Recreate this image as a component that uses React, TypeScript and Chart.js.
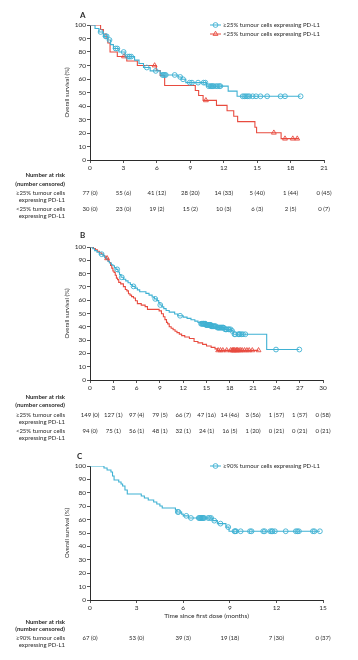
import React, { useEffect, useRef } from "react";
import { Chart, registerables } from "chart.js";
Chart.register(...registerables);

const BLUE = "#3fb1d3";
const RED = "#e84b3f";
const INK = "#2b2b2b";
const FONT = "Lato, 'Open Sans', sans-serif";

// ---------- Panel A ----------
const aTicks = [0, 3, 6, 9, 12, 15, 18, 21];
const aHiTimes = [0, 0.45, 0.8, 1.2, 1.6, 1.85, 2.1, 2.6, 3.15, 4.0, 4.4, 4.8, 5.4, 6.3, 6.45, 7.9, 8.2, 8.6, 10.45, 12.4, 13.2, 18.9];
const aHiSurv = [100, 97.4, 94.8, 91.6, 88.9, 85.5, 82.6, 80.0, 76.6, 74.0, 71.5, 68.5, 66.0, 64.2, 63.0, 61.5, 59.8, 57.3, 54.7, 51.0, 47.2, 47.2];
const aHiCens = [0.95, 1.4, 1.5, 1.75, 2.3, 2.45, 3.02, 3.4, 3.55, 3.7, 5.1, 5.9, 6.5, 6.6, 6.7, 6.8, 7.6, 8.1, 8.35, 8.95, 9.15, 9.7, 10.2, 10.35, 10.65, 10.8, 10.9, 11.0, 11.1, 11.3, 11.45, 11.6, 11.7, 13.7, 13.85, 14.0, 14.15, 14.3, 14.6, 14.9, 15.3, 15.9, 17.1, 17.5, 18.9];
const aLoTimes = [0, 0.95, 1.2, 1.45, 1.6, 1.8, 2.45, 3.3, 4.25, 5.95, 6.3, 6.7, 9.45, 9.75, 10.15, 11.35, 12.3, 12.9, 13.25, 14.8, 14.95, 17.15, 18.75];
const aLoSurv = [100, 96.7, 93.3, 90.0, 86.7, 80.0, 76.7, 73.3, 70.0, 66.3, 62.6, 55.2, 51.5, 47.8, 44.2, 40.5, 36.5, 32.4, 28.4, 24.3, 20.2, 15.8, 15.8];
const aLoCens = [3.05, 5.8, 10.4, 16.5, 17.5, 18.2, 18.6];
const aHiRisk = ["77 (0)", "55 (6)", "41 (12)", "28 (20)", "14 (33)", "5 (40)", "1 (44)", "0 (45)"];
const aLoRisk = ["30 (0)", "23 (0)", "19 (2)", "15 (2)", "10 (3)", "6 (3)", "2 (5)", "0 (7)"];

// ---------- Panel B ----------
const bTicks = [0, 3, 6, 9, 12, 15, 18, 21, 24, 27, 30];
const bHiTimes = [0, 0.35, 0.6, 0.9, 1.2, 1.7, 1.9, 2.1, 2.3, 2.5, 2.75, 2.95, 3.15, 3.35, 3.6, 3.8, 4.0, 4.3, 4.6, 4.9, 5.2, 5.45, 5.8, 6.1, 6.4, 7.2, 7.6, 8.0, 8.3, 8.6, 8.85, 9.0, 9.25, 9.5, 9.8, 10.2, 10.9, 11.3, 12.0, 12.5, 13.0, 13.5, 13.9, 14.25, 14.9, 15.6, 16.3, 17.3, 18.2, 18.45, 22.75, 26.95];
const bHiSurv = [100, 98.7, 97.3, 96.0, 94.6, 93.3, 92.0, 90.6, 89.3, 88.0, 86.6, 85.9, 84.5, 83.2, 81.2, 79.2, 77.2, 75.8, 74.5, 73.1, 71.8, 70.4, 69.1, 67.8, 66.4, 65.1, 63.8, 62.4, 61.0, 59.7, 58.3, 56.4, 55.0, 53.7, 52.3, 51.0, 49.6, 48.3, 47.3, 46.3, 45.3, 44.3, 43.3, 42.3, 41.4, 40.4, 39.4, 38.1, 36.9, 34.4, 22.9, 22.9];
const bHiCens = [1.5, 3.5, 4.1, 5.6, 8.4, 9.05, 11.6, 14.3, 14.4, 14.5, 14.6, 14.65, 14.7, 14.8, 14.85, 14.95, 15.0, 15.05, 15.1, 15.2, 15.3, 15.35, 15.4, 15.5, 15.55, 15.6, 15.7, 15.8, 15.9, 16.0, 16.1, 16.2, 16.4, 16.5, 16.6, 16.7, 16.8, 16.9, 17.0, 17.1, 17.2, 17.4, 17.5, 17.6, 17.8, 17.9, 18.1, 18.3, 18.6, 18.7, 19.1, 19.2, 19.3, 19.5, 19.7, 20.0, 23.95, 26.95];
const bLoTimes = [0, 0.45, 0.7, 0.95, 1.2, 1.45, 1.7, 1.9, 2.05, 2.35, 2.5, 2.65, 2.8, 2.95, 3.1, 3.25, 3.4, 3.55, 3.7, 3.95, 4.3, 4.55, 4.75, 4.95, 5.15, 5.35, 5.6, 5.85, 6.1, 6.6, 7.1, 7.4, 8.9, 9.2, 9.45, 9.65, 9.85, 10.0, 10.2, 10.45, 10.7, 10.95, 11.2, 11.5, 11.8, 12.2, 12.8, 13.4, 13.9, 14.5, 15.0, 15.6, 16.1, 16.4, 21.7];
const bLoSurv = [100, 98.9, 97.9, 96.8, 95.7, 94.7, 93.6, 92.6, 91.5, 89.4, 88.3, 86.2, 84.1, 82.0, 80.9, 78.8, 76.6, 75.5, 73.4, 72.3, 70.2, 68.1, 67.0, 64.9, 63.8, 62.7, 61.7, 59.6, 57.4, 56.3, 55.2, 53.1, 52.0, 49.8, 47.6, 45.4, 43.3, 42.2, 40.0, 38.9, 37.8, 36.7, 35.6, 34.5, 33.4, 32.3, 31.2, 29.0, 27.9, 26.8, 25.6, 24.5, 23.4, 22.3, 22.3];
const bLoCens = [2.2, 16.5, 16.8, 17.1, 17.6, 18.1, 18.3, 18.4, 18.5, 18.6, 18.8, 18.9, 19.0, 19.2, 19.4, 19.6, 19.9, 20.2, 20.5, 20.9, 21.7];
const bHiRisk = ["149 (0)", "127 (1)", "97 (4)", "79 (5)", "66 (7)", "47 (16)", "14 (46)", "3 (56)", "1 (57)", "1 (57)", "0 (58)"];
const bLoRisk = ["94 (0)", "75 (1)", "56 (1)", "48 (1)", "32 (1)", "24 (1)", "16 (5)", "1 (20)", "0 (21)", "0 (21)", "0 (21)"];

// ---------- Panel C ----------
const cTicks = [0, 3, 6, 9, 12, 15];
const cTimes = [0, 0.9, 1.1, 1.35, 1.45, 1.55, 1.85, 2.0, 2.1, 2.25, 2.4, 3.3, 3.5, 3.75, 4.1, 4.3, 4.5, 4.65, 5.5, 5.6, 5.9, 6.0, 6.35, 7.9, 8.2, 8.75, 8.95, 14.8];
const cSurv = [100, 98.5, 97.0, 95.5, 92.5, 89.6, 88.1, 86.6, 85.1, 82.1, 79.1, 77.6, 76.1, 74.6, 73.1, 71.6, 70.1, 68.7, 67.2, 65.7, 64.1, 62.8, 61.2, 59.2, 57.0, 54.4, 51.3, 51.3];
const cCens = [5.65, 5.7, 6.2, 6.5, 7.0, 7.05, 7.1, 7.15, 7.2, 7.25, 7.3, 7.35, 7.6, 7.7, 7.8, 8.0, 8.4, 8.9, 9.3, 9.35, 9.4, 9.7, 10.3, 10.4, 11.15, 11.25, 11.6, 11.7, 11.75, 11.9, 12.6, 13.25, 13.35, 13.45, 14.35, 14.45, 14.8];
const cRisk = ["67 (0)", "53 (0)", "39 (3)", "19 (18)", "7 (30)", "0 (37)"];

const yTicks = [0, 10, 20, 30, 40, 50, 60, 70, 80, 90, 100];

const hiLegend = "≥25% tumour cells expressing PD-L1";
const loLegend = "<25% tumour cells expressing PD-L1";
const c90Legend = "≥90% tumour cells expressing PD-L1";
const hiRowLabel = ["≥25% tumour cells", "expressing PD-L1"];
const loRowLabel = ["<25% tumour cells", "expressing PD-L1"];
const c90RowLabel = ["≥90% tumour cells", "expressing PD-L1"];

type Series = {
  times: number[];
  surv: number[];
  cens: number[];
  color: string;
  marker: "circle" | "triangle";
  legend: string;
  rowLabel: string[];
  risk: string[];
};

type PanelCfg = {
  top: number;
  height: number;
  letter: string;
  letterPos: [number, number];
  ticks: number[];
  padding: { left: number; right: number; top: number; bottom: number };
  xHeight: number;
  xTitle?: string;
  legendY: number[];
  series: Series[];
  headY: [number, number];
  rowY: number[];
};

function survAt(times: number[], surv: number[], t: number) {
  let v = surv[0];
  for (let i = 0; i < times.length; i++) if (times[i] <= t) v = surv[i];
  return v;
}

function drawMarker(ctx: CanvasRenderingContext2D, kind: string, x: number, y: number, color: string) {
  ctx.save();
  ctx.strokeStyle = color;
  ctx.lineWidth = 0.9;
  ctx.beginPath();
  if (kind === "circle") {
    ctx.arc(x, y, 2.4, 0, Math.PI * 2);
  } else {
    const r = 2.8;
    ctx.moveTo(x, y - r);
    ctx.lineTo(x + r * 0.866, y + r * 0.5);
    ctx.lineTo(x - r * 0.866, y + r * 0.5);
    ctx.closePath();
  }
  ctx.stroke();
  ctx.restore();
}

const panels: PanelCfg[] = [
  {
    top: 0,
    height: 225,
    letter: "A",
    letterPos: [80, 15],
    ticks: aTicks,
    padding: { left: 60, right: 34, top: 25, bottom: 53 },
    xHeight: 12,
    legendY: [25, 34],
    series: [
      { times: aHiTimes, surv: aHiSurv, cens: aHiCens, color: BLUE, marker: "circle", legend: hiLegend, rowLabel: hiRowLabel, risk: aHiRisk },
      { times: aLoTimes, surv: aLoSurv, cens: aLoCens, color: RED, marker: "triangle", legend: loLegend, rowLabel: loRowLabel, risk: aLoRisk },
    ],
    headY: [175, 184],
    rowY: [193, 209],
  },
  {
    top: 225,
    height: 220,
    letter: "B",
    letterPos: [80, 10],
    ticks: bTicks,
    padding: { left: 60, right: 35, top: 22, bottom: 53 },
    xHeight: 12,
    legendY: [],
    series: [
      { times: bHiTimes, surv: bHiSurv, cens: bHiCens, color: BLUE, marker: "circle", legend: hiLegend, rowLabel: hiRowLabel, risk: bHiRisk },
      { times: bLoTimes, surv: bLoSurv, cens: bLoCens, color: RED, marker: "triangle", legend: loLegend, rowLabel: loRowLabel, risk: bLoRisk },
    ],
    headY: [172, 180],
    rowY: [190, 206],
  },
  {
    top: 445,
    height: 215,
    letter: "C",
    letterPos: [77, 11],
    ticks: cTicks,
    padding: { left: 60, right: 35, top: 21, bottom: 40 },
    xHeight: 20,
    xTitle: "Time since first dose (months)",
    legendY: [21],
    series: [
      { times: cTimes, surv: cSurv, cens: cCens, color: BLUE, marker: "circle", legend: c90Legend, rowLabel: c90RowLabel, risk: cRisk },
    ],
    headY: [177, 184.5],
    rowY: [193],
  },
];

function Panel({ cfg }: { cfg: PanelCfg }) {
  const ref = useRef<HTMLCanvasElement | null>(null);
  useEffect(() => {
    if (!ref.current) return;
    const datasets: any[] = [];
    cfg.series.forEach((s) => {
      datasets.push({
        type: "scatter",
        showLine: false,
        data: s.cens.map((t) => ({ x: t, y: survAt(s.times, s.surv, t) })),
        pointStyle: s.marker,
        pointRadius: s.marker === "circle" ? 2.4 : 2.8,
        pointBorderWidth: 0.9,
        pointBorderColor: s.color,
        pointBackgroundColor: "rgba(255,255,255,0)",
        order: 0,
      });
    });
    cfg.series.forEach((s) => {
      datasets.push({
        type: "line",
        data: s.times.map((t, i) => ({ x: t, y: s.surv[i] })),
        stepped: true,
        borderColor: s.color,
        borderWidth: 1.1,
        pointRadius: 0,
        fill: false,
        order: 1,
      });
    });

    const extras = {
      id: "extras",
      afterDraw(chart: any) {
        const ctx: CanvasRenderingContext2D = chart.ctx;
        const xs = chart.scales.x;
        ctx.save();
        ctx.fillStyle = INK;
        ctx.textBaseline = "middle";
        ctx.textAlign = "left";
        ctx.font = `bold 8px ${FONT}`;
        ctx.fillText(cfg.letter, cfg.letterPos[0], cfg.letterPos[1]);
        ctx.font = `6px ${FONT}`;
        cfg.legendY.forEach((y, i) => {
          const s = cfg.series[i];
          ctx.strokeStyle = s.color;
          ctx.lineWidth = 1;
          ctx.beginPath();
          ctx.moveTo(210, y);
          ctx.lineTo(221, y);
          ctx.stroke();
          drawMarker(ctx, s.marker, 215.5, y, s.color);
          ctx.fillStyle = INK;
          ctx.fillText(s.legend, 223, y);
        });
        ctx.textAlign = "right";
        ctx.font = `bold 6px ${FONT}`;
        ctx.fillText("Number at risk", 65, cfg.headY[0]);
        ctx.fillText("(number censored)", 65, cfg.headY[1]);
        cfg.series.forEach((s, r) => {
          const y = cfg.rowY[r];
          ctx.textAlign = "right";
          ctx.font = `6px ${FONT}`;
          ctx.fillText(s.rowLabel[0], 65, y);
          ctx.fillText(s.rowLabel[1], 65, y + 7.5);
          ctx.textAlign = "center";
          s.risk.forEach((txt, i) => {
            ctx.fillText(txt, xs.getPixelForValue(cfg.ticks[i]), y);
          });
        });
        ctx.restore();
      },
    };

    const chart = new Chart(ref.current, {
      type: "line",
      data: { datasets },
      plugins: [extras],
      options: {
        responsive: false,
        animation: false,
        events: [],
        layout: { padding: cfg.padding },
        plugins: { legend: { display: false }, tooltip: { enabled: false } },
        scales: {
          x: {
            type: "linear",
            min: cfg.ticks[0],
            max: cfg.ticks[cfg.ticks.length - 1],
            afterBuildTicks: (s: any) => {
              s.ticks = cfg.ticks.map((v) => ({ value: v }));
            },
            afterFit: (s: any) => {
              s.height = cfg.xHeight;
            },
            ticks: { autoSkip: false, maxRotation: 0, padding: 1, color: INK, font: { family: FONT, size: 6.5 } },
            grid: { display: true, drawOnChartArea: false, tickLength: 3, color: INK, lineWidth: 0.8 },
            border: { display: true, color: INK, width: 1 },
            title: cfg.xTitle
              ? { display: true, text: cfg.xTitle, color: INK, font: { family: FONT, size: 6.5 }, padding: { top: 0, bottom: 0 } }
              : { display: false },
          },
          y: {
            type: "linear",
            min: 0,
            max: 100,
            afterBuildTicks: (s: any) => {
              s.ticks = yTicks.map((v) => ({ value: v }));
            },
            afterFit: (s: any) => {
              s.width = 30;
            },
            ticks: { padding: 1, color: INK, font: { family: FONT, size: 6.5 } },
            grid: { display: true, drawOnChartArea: false, tickLength: 3, color: INK, lineWidth: 0.8 },
            border: { display: true, color: INK, width: 1 },
            title: { display: true, text: "Overall survival (%)", color: INK, font: { family: FONT, size: 6 }, padding: { top: 3, bottom: 0 } },
          },
        },
      } as any,
    });
    return () => chart.destroy();
  }, [cfg]);
  return (
    <canvas
      ref={ref}
      width={358}
      height={cfg.height}
      style={{ position: "absolute", left: 0, top: cfg.top, width: 358, height: cfg.height, display: "block" }}
    />
  );
}

export default function App() {
  return (
    <div style={{ position: "absolute", left: 0, top: 0, width: 358, height: 660, background: "#ffffff", overflow: "hidden" }}>
      {panels.map((p) => (
        <Panel key={p.letter} cfg={p} />
      ))}
    </div>
  );
}
